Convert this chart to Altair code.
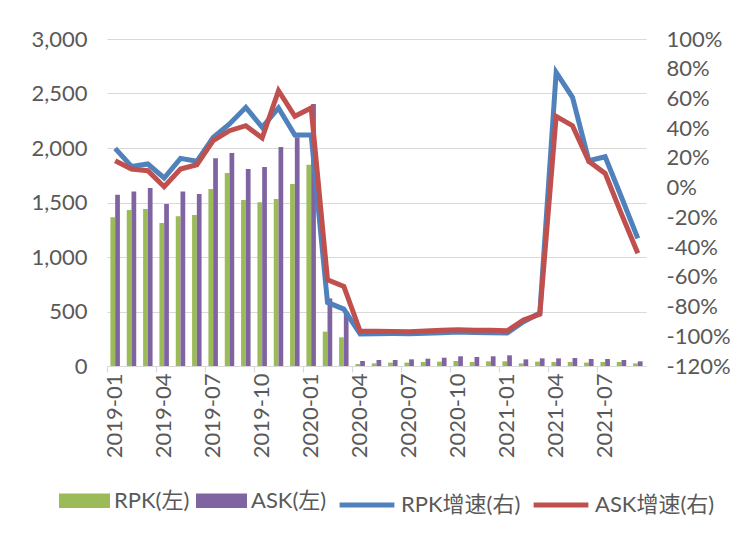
import altair as alt
import pandas as pd

months = ["2019-01", "2019-02", "2019-03", "2019-04", "2019-05", "2019-06",
          "2019-07", "2019-08", "2019-09", "2019-10", "2019-11", "2019-12",
          "2020-01", "2020-02", "2020-03", "2020-04", "2020-05", "2020-06",
          "2020-07", "2020-08", "2020-09", "2020-10", "2020-11", "2020-12",
          "2021-01", "2021-02", "2021-03", "2021-04", "2021-05", "2021-06",
          "2021-07", "2021-08", "2021-09"]
label_months = ["2019-01", "2019-04", "2019-07", "2019-10", "2020-01", "2020-04",
                "2020-07", "2020-10", "2021-01", "2021-04", "2021-07"]

rpk = [1364, 1431, 1440, 1312, 1373, 1385, 1624, 1771, 1523, 1502, 1532, 1670,
       1847, 315, 263, 18, 24, 31, 31, 37, 40, 46, 37, 43, 43, 24, 40, 37, 37,
       31, 37, 37, 24]
ask = [1572, 1602, 1633, 1486, 1602, 1578, 1905, 1954, 1807, 1826, 2009, 2098,
       2404, 620, 500, 46, 55, 55, 61, 67, 76, 89, 83, 89, 98, 61, 70, 70, 73,
       64, 64, 55, 43]
rpk_growth = [26.4, 14.3, 15.9, 6.5, 19.7, 17.7, 33.8, 42.8, 54.0, 40.6, 53.6,
              35.4, 35.4, -77.2, -81.7, -98.5, -98.3, -98.2, -98.3, -98.0, -97.6,
              -97.2, -97.5, -97.6, -97.8, -90.2, -84.4, 77.6, 60.8, 18.1, 20.8,
              -6.5, -34.1]
ask_growth = [18.1, 12.5, 11.4, 0.6, 12.5, 15.4, 31.6, 38.3, 41.7, 33.4, 65.2,
              48.0, 53.6, -62.0, -66.4, -96.7, -96.7, -96.8, -96.9, -96.5, -96.0,
              -95.6, -96.0, -96.0, -96.3, -89.1, -85.1, 48.0, 41.7, 17.7, 9.6,
              -17.8, -44.2]

bar_series = ["RPK(左)", "ASK(左)"]
line_series = ["RPK增速(右)", "ASK增速(右)"]
bar_colors = ["#9BBB59", "#8064A2"]
line_colors = ["#4F81BD", "#C0504D"]

FONT = "Lato, 'Noto Sans CJK SC', sans-serif"
FS = 22
TXT = "#595959"
GRID = "#d9d9d9"

df_bar = pd.DataFrame({
    "month": months * 2,
    "series": [bar_series[0]] * len(months) + [bar_series[1]] * len(months),
    "value": rpk + ask,
})
df_line = pd.DataFrame({
    "month": months * 2,
    "series": [line_series[0]] * len(months) + [line_series[1]] * len(months),
    "pct": rpk_growth + ask_growth,
})

W, H = 539, 327
step = W / len(months)

xscale = alt.Scale(domain=months, paddingInner=0.42, paddingOuter=0.21)

bars = alt.Chart(df_bar).mark_bar().encode(
    x=alt.X("month:O", sort=months, scale=xscale,
            axis=alt.Axis(title=None, orient="bottom", values=label_months,
                          labelAngle=-90, ticks=False, domain=True,
                          domainColor=GRID, domainWidth=1.2, labelPadding=7,
                          labelFontSize=FS, labelColor=TXT, labelFont=FONT,
                          grid=False)),
    xOffset=alt.XOffset("series:N", sort=bar_series,
                        scale=alt.Scale(domain=bar_series, paddingInner=0, paddingOuter=0)),
    y=alt.Y("value:Q", scale=alt.Scale(domain=[0, 3000]),
            axis=alt.Axis(title=None, orient="left",
                          values=[0, 500, 1000, 1500, 2000, 2500, 3000],
                          format=",d", grid=True, gridColor=GRID, gridWidth=1.2,
                          ticks=False, domain=False, labelPadding=20,
                          labelFontSize=FS, labelColor=TXT, labelFont=FONT)),
    fill=alt.Fill("series:N", sort=bar_series,
                  scale=alt.Scale(domain=bar_series, range=bar_colors),
                  legend=alt.Legend(title=None, orient="none", legendX=-48,
                                    legendY=436, direction="horizontal",
                                    symbolType="M-1,-0.28H1V0.28H-1Z",
                                    symbolSize=2600, symbolStrokeWidth=0,
                                    labelFontSize=FS, labelColor=TXT,
                                    labelFont=FONT, labelOffset=4,
                                    columnPadding=6)),
)

lines = alt.Chart(df_line).mark_line(strokeWidth=5).encode(
    x=alt.X("month:O", sort=months, scale=xscale,
            axis=alt.Axis(title=None, orient="bottom", values=months[::3],
                          labels=False, ticks=True, tickOffset=-step / 2,
                          tickColor=GRID, tickWidth=1.2, tickSize=6,
                          domain=False, grid=False)),
    y=alt.Y("pct:Q", scale=alt.Scale(domain=[-120, 100]),
            axis=alt.Axis(title=None, orient="right",
                          values=list(range(-120, 101, 20)),
                          labelExpr="datum.value + '%'", grid=False, ticks=False,
                          domain=False, labelPadding=20, labelFontSize=FS,
                          labelColor=TXT, labelFont=FONT)),
    stroke=alt.Stroke("series:N", sort=line_series,
                      scale=alt.Scale(domain=line_series, range=line_colors),
                      legend=alt.Legend(title=None, orient="none", legendX=230,
                                        legendY=436, direction="horizontal",
                                        symbolType="stroke", symbolSize=3000,
                                        symbolStrokeWidth=5,
                                        labelFontSize=FS, labelColor=TXT,
                                        labelFont=FONT, labelOffset=4,
                                        columnPadding=2)),
)

chart = alt.layer(bars, lines).resolve_scale(
    y="independent", fill="independent", stroke="independent"
).resolve_axis(x="independent", y="independent").properties(
    width=W, height=H,
    padding={"left": 22, "top": 20, "right": 5, "bottom": 5},
).configure_view(stroke=None)

chart.save("out.html", embed_options={"renderer": "svg", "actions": False})
